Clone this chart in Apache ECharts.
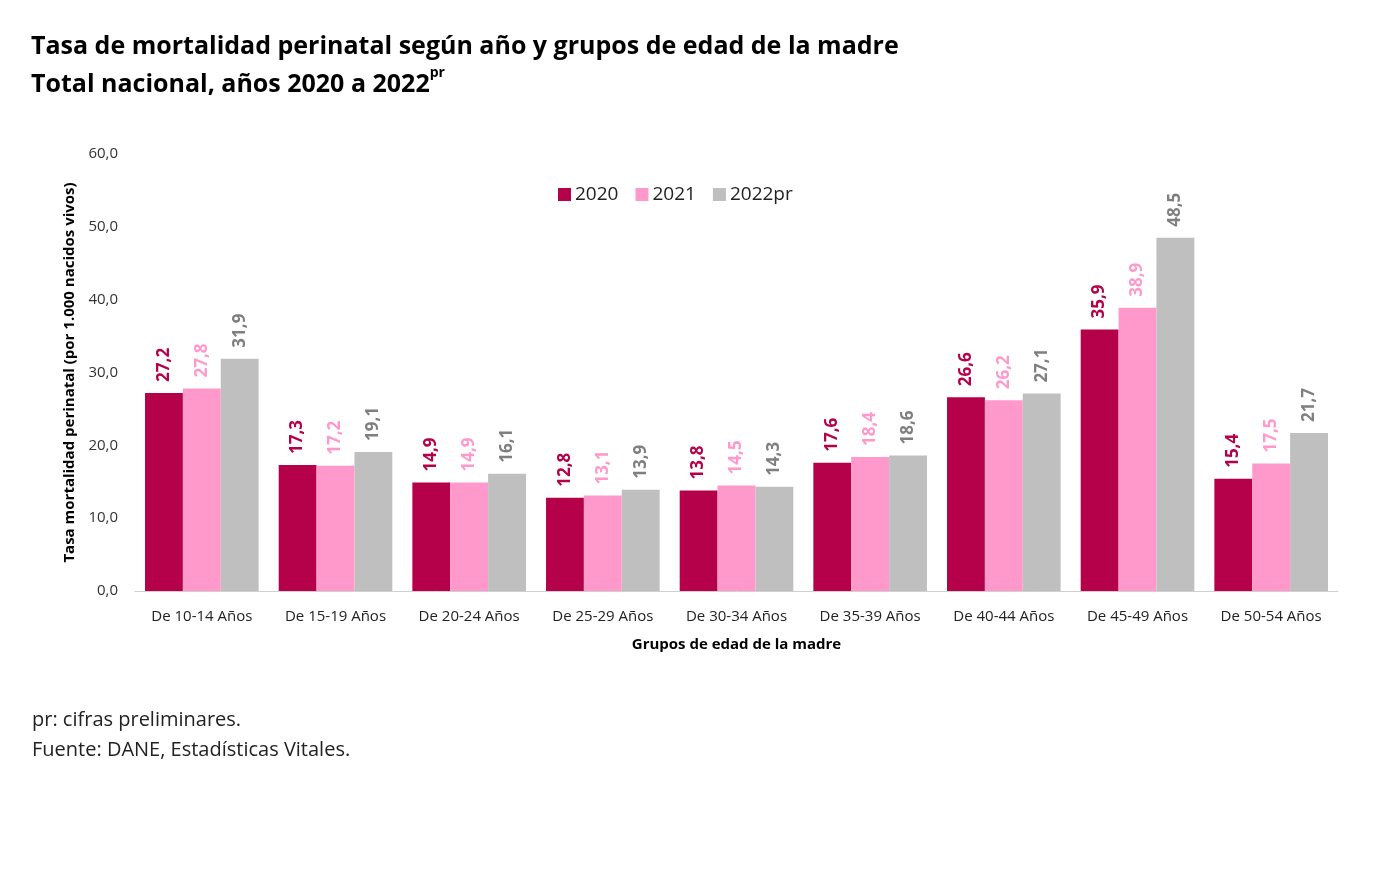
<!DOCTYPE html>
<html><head><meta charset="utf-8">
<script src="https://cdn.jsdelivr.net/npm/echarts@6/dist/echarts.min.js"></script>
<style>html,body{margin:0;padding:0;background:#fff}#c{width:1390px;height:880px}</style>
</head><body><div id="c"></div>
<script>
const categories = ["De 10-14 Años","De 15-19 Años","De 20-24 Años","De 25-29 Años","De 30-34 Años","De 35-39 Años","De 40-44 Años","De 45-49 Años","De 50-54 Años"];
const seriesNames = ["2020","2021","2022pr"];
const values2020 = [27.2,17.3,14.9,12.8,13.8,17.6,26.6,35.9,15.4];
const values2021 = [27.8,17.2,14.9,13.1,14.5,18.4,26.2,38.9,17.5];
const values2022 = [31.9,19.1,16.1,13.9,14.3,18.6,27.1,48.5,21.7];
const colors = ["#b5004a","#ff99cc","#bfbfbf"];
const labelColors = ["#b5004a","#ff99cc","#7f7f7f"];
const font = "'Open Sans', 'Noto Sans', sans-serif";
const fmt = v => v.toFixed(1).replace('.', ',');

const chart = echarts.init(document.getElementById('c'));
const allValues = [values2020, values2021, values2022];
chart.setOption({
  animation: false,
  textStyle: {fontFamily: font},
  title: [{
    left: 31, top: 28, padding: 0,
    text: "Tasa de mortalidad perinatal según año y grupos de edad de la madre\nTotal nacional, años 2020 a 2022{sup|pr}",
    textStyle: {
      fontFamily: font, fontSize: 25, fontWeight: 'bold', color: '#000', lineHeight: 38,
      rich: {sup: {fontSize: 14, fontWeight: 'bold', color: '#000', verticalAlign: 'top', lineHeight: 38, padding: [0,0,16,0]}}
    }
  }],
  graphic: [
    {type: 'text', left: 32, top: 705, style: {text: 'pr: cifras preliminares.\nFuente: DANE, Estadísticas Vitales.', font: "20px 'Open Sans', 'Noto Sans', sans-serif", fill: '#222', lineHeight: 30}}
  ],
  legend: {
    top: 180, left: 553,
    itemWidth: 13, itemHeight: 13, itemGap: 17,
    icon: 'rect',
    textStyle: {fontSize: 19, color: '#222', fontFamily: font, padding: [0,0,0,-1]},
    data: seriesNames
  },
  grid: {left: 135, right: 52, top: 154, bottom: 289, containLabel: false},
  xAxis: {
    type: 'category', data: categories,
    axisLine: {lineStyle: {color: '#d0d0d0'}},
    axisTick: {show: false},
    axisLabel: {fontSize: 15, color: '#222', margin: 18, fontFamily: font},
    name: 'Grupos de edad de la madre', nameLocation: 'middle', nameGap: 46,
    nameTextStyle: {fontSize: 15, fontWeight: 'bold', color: '#000', fontFamily: font}
  },
  yAxis: {
    type: 'value', min: 0, max: 60, interval: 10,
    splitLine: {show: false},
    axisLine: {show: false}, axisTick: {show: false},
    axisLabel: {fontSize: 15, color: '#333', margin: 17, formatter: v => fmt(v), fontFamily: font},
    name: 'Tasa mortalidad perinatal (por 1.000 nacidos vivos)', nameLocation: 'middle', nameGap: 58,
    nameTextStyle: {fontSize: 15, fontWeight: 'bold', color: '#000', fontFamily: font}
  },
  series: seriesNames.map((n, i) => ({
    name: n, type: 'bar', data: allValues[i],
    barGap: '0%', barCategoryGap: '15%',
    itemStyle: {color: colors[i]},
    label: {
      show: true, position: 'top', rotate: 90, align: 'left', verticalAlign: 'middle', distance: 11,
      fontSize: 17, fontWeight: 'bold', color: labelColors[i], fontFamily: font,
      formatter: p => fmt(p.value)
    }
  }))
});
</script></body></html>
